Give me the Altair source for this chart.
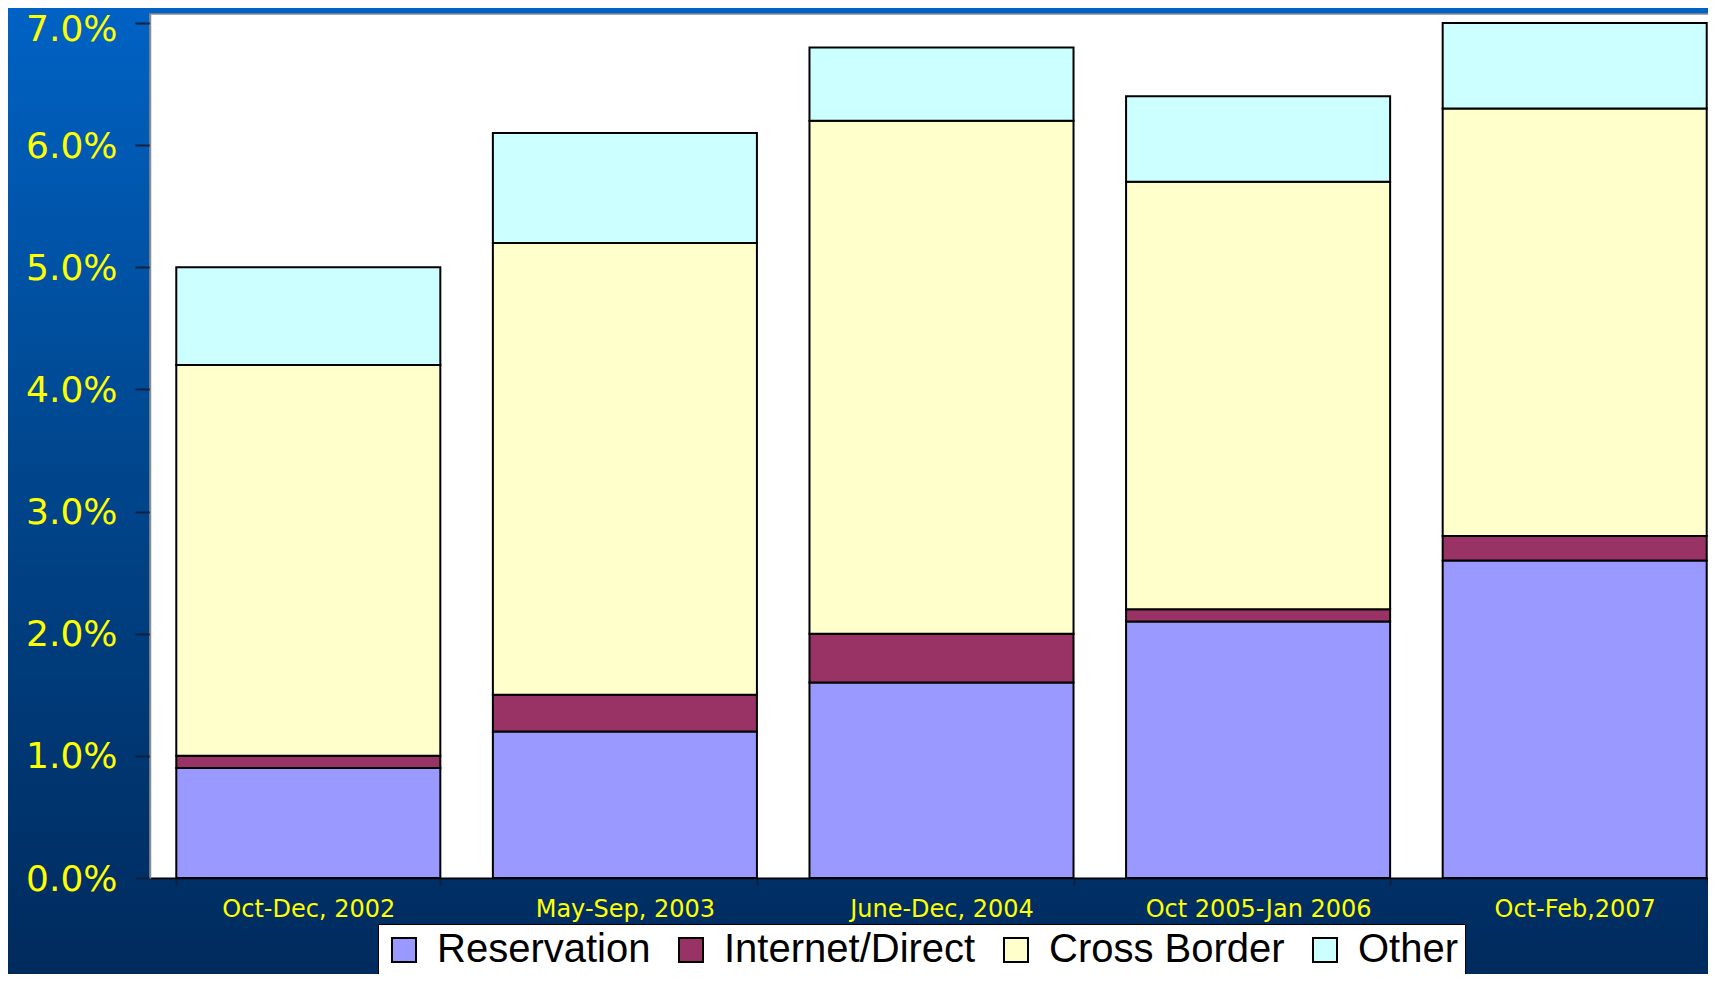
import altair as alt
import pandas as pd

periods = ["Oct-Dec, 2002", "May-Sep, 2003", "June-Dec, 2004", "Oct 2005-Jan 2006", "Oct-Feb,2007"]
series = ["Reservation", "Internet/Direct", "Cross Border", "Other"]
reservation = [0.009, 0.012, 0.016, 0.021, 0.026]
internet_direct = [0.001, 0.003, 0.004, 0.001, 0.002]
cross_border = [0.032, 0.037, 0.042, 0.035, 0.035]
other = [0.008, 0.009, 0.006, 0.007, 0.007]
colors = ["#9999FF", "#993366", "#FFFFCC", "#CCFFFF"]
y_ticks = [0.0, 0.01, 0.02, 0.03, 0.04, 0.05, 0.06, 0.07]

rows = []
for s_i, (name, vals) in enumerate(zip(series, [reservation, internet_direct, cross_border, other])):
    for p, v in zip(periods, vals):
        rows.append({"period": p, "series": name, "value": v, "order": s_i})
df = pd.DataFrame(rows)

W, H = 1558, 864
PAD_L, PAD_T, PAD_B = 142, 6, 96
Y_MAX = 0.07074
AXIS_FONT = "DejaVu Sans"
LEG_FONT = "Liberation Sans"

grad = alt.LinearGradient(
    gradient="linear",
    stops=[
        alt.GradientStop(color="#0062c4", offset=0),
        alt.GradientStop(color="#00478f", offset=0.45),
        alt.GradientStop(color="#002a5c", offset=1),
    ],
    x1=0, x2=0, y1=0, y2=1,
)

one = pd.DataFrame({"k": [0]})
bg = alt.Chart(one).mark_rect(fill=grad).encode(
    x=alt.value(-PAD_L), x2=alt.value(W + 20),
    y=alt.value(-PAD_T), y2=alt.value(H + PAD_B + 10),
)
plotbg = alt.Chart(one).mark_rect(fill="white", stroke="#8c8c8c", strokeWidth=1.5).encode(
    x=alt.value(0), x2=alt.value(W + 40), y=alt.value(0), y2=alt.value(H),
)

bars = alt.Chart(df).mark_bar(stroke="black", strokeWidth=2).encode(
    x=alt.X(
        "period:N", sort=periods,
        scale=alt.Scale(range=[0, 1583], paddingInner=0.166, paddingOuter=0.083),
        axis=alt.Axis(
            title=None, labelAngle=0, labelColor="#FFFF00", labelFont=AXIS_FONT, labelFontSize=24,
            labelLimit=400, tickBand="extent", tickSize=7, tickColor="#0f2040", tickWidth=2,
            labelPadding=12, domainColor="black", domainWidth=1.5, zindex=1,
        ),
    ),
    y=alt.Y(
        "value:Q", stack="zero",
        scale=alt.Scale(domain=[0, Y_MAX], nice=False, zero=True),
        axis=alt.Axis(
            title=None, values=y_ticks, format=".1%", labelColor="#FFFF00", labelFont=AXIS_FONT,
            labelFontSize=36,
            labelOffset={"condition": {"test": "datum.value >= 0.0695", "value": 6}, "value": 1},
            tickSize=15, tickColor="#0f2040", tickWidth=2,
            labelPadding=18, domainColor="#8c8c8c", domainWidth=1.5, grid=False, zindex=1,
        ),
    ),
    color=alt.Color(
        "series:N", sort=series,
        scale=alt.Scale(domain=series, range=colors),
        legend=alt.Legend(
            title=None, orient="none", legendX=228, legendY=910, direction="horizontal",
            labelFont=LEG_FONT, labelFontSize=40, labelColor="black", labelLimit=500,
            symbolType="square", symbolSize=576, symbolStrokeColor="black", symbolStrokeWidth=2,
            symbolOpacity=1, fillColor="white", strokeColor="black", padding=6,
            columnPadding=20, labelOffset=13, zindex=1,
        ),
    ),
    order=alt.Order("order:Q", sort="ascending"),
)

chart = alt.layer(bg, plotbg, bars).properties(
    width=W, height=H,
    padding={"left": PAD_L, "top": PAD_T, "right": 0, "bottom": PAD_B},
    autosize=alt.AutoSizeParams(type="none"),
).configure(background="#003a7a").configure_view(stroke=None)

chart.save("out.html", embed_options={"renderer": "svg", "actions": False})
